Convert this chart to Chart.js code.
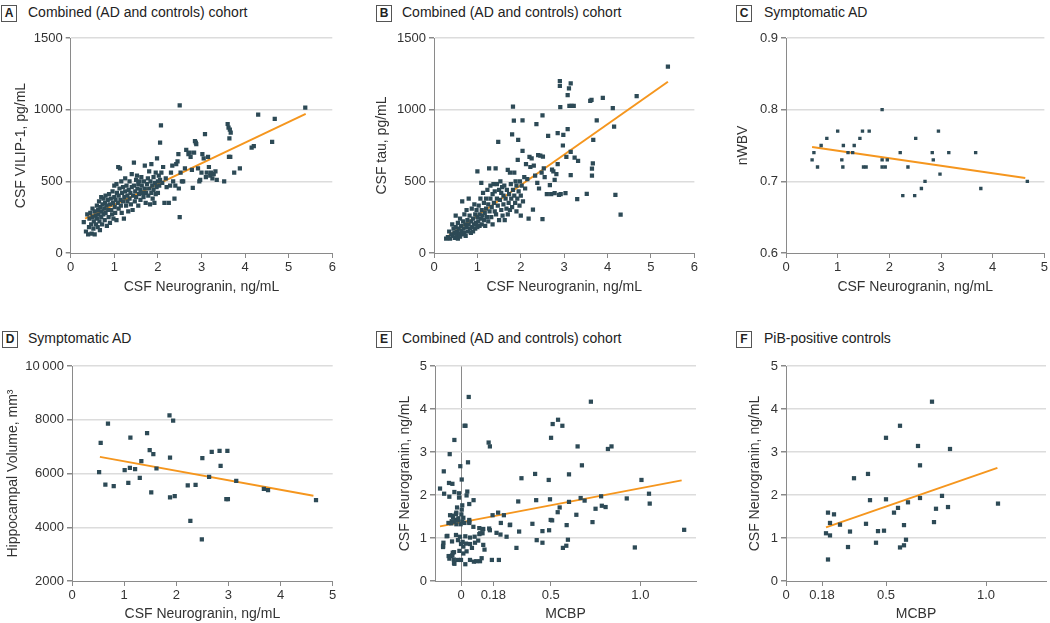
<!DOCTYPE html>
<html>
<head>
<meta charset="utf-8">
<script src="https://cdn.jsdelivr.net/npm/chart.js@4.4.1/dist/chart.umd.min.js"></script>
<style>
  body { margin: 0; background: #fff; width: 1050px; height: 623px; position: relative; overflow: hidden;
         font-family: 'Liberation Sans', Arial, sans-serif; color: #222; }
  .tag { position: absolute; width: 14px; height: 15px; border: 1px solid #555; font-weight: bold;
         font-size: 12px; line-height: 15px; text-align: center; }
  .title { position: absolute; font-size: 14px; line-height: 16px; white-space: nowrap; }
  canvas { position: absolute; }
</style>
</head>
<body>
<div class="tag" style="left:1px;top:5px">A</div><div class="title" style="left:28px;top:4px">Combined (AD and controls) cohort</div>
<div class="tag" style="left:376px;top:5px">B</div><div class="title" style="left:402px;top:4px">Combined (AD and controls) cohort</div>
<div class="tag" style="left:736px;top:5px">C</div><div class="title" style="left:764px;top:4px">Symptomatic AD</div>
<div class="tag" style="left:2px;top:331px">D</div><div class="title" style="left:28px;top:330px">Symptomatic AD</div>
<div class="tag" style="left:376px;top:331px">E</div><div class="title" style="left:402px;top:330px">Combined (AD and controls) cohort</div>
<div class="tag" style="left:736px;top:331px">F</div><div class="title" style="left:764px;top:330px">PiB-positive controls</div>
<script>
// ---- data ----
// A: CSF neurogranin (ng/mL) vs CSF VILIP-1 (pg/mL)
const vilipPoints = [
  [0.30,215],[0.35,150],[0.38,270],[0.40,130],[0.42,180],[0.43,240],[0.45,280],[0.47,200],[0.48,135],[0.50,250],
  [0.50,310],[0.52,170],[0.53,220],[0.55,290],[0.55,130],[0.57,260],[0.58,200],[0.60,330],[0.60,240],[0.62,180],
  [0.63,300],[0.64,270],[0.65,360],[0.66,220],[0.67,160],[0.68,320],[0.70,250],[0.70,390],[0.71,290],[0.72,200],
  [0.73,340],[0.75,270],[0.75,380],[0.77,310],[0.78,230],[0.79,350],[0.80,400],[0.80,280],[0.82,330],[0.83,190],
  [0.85,370],[0.86,300],[0.87,250],[0.88,410],[0.90,340],[0.90,210],[0.92,380],[0.93,300],[0.95,270],[0.96,430],
  [0.97,350],[0.98,240],[1.00,470],[1.00,390],[1.01,320],[1.02,280],[1.03,370],[1.05,480],[1.05,230],[1.06,420],
  [1.08,350],[1.09,600],[1.10,310],[1.10,400],[1.12,450],[1.13,590],[1.14,370],[1.15,330],[1.16,500],[1.17,280],
  [1.18,420],[1.20,360],[1.20,460],[1.22,240],[1.23,390],[1.25,520],[1.25,430],[1.27,330],[1.28,470],[1.30,400],
  [1.30,360],[1.32,290],[1.33,440],[1.35,500],[1.35,380],[1.37,420],[1.38,340],[1.40,550],[1.40,460],[1.42,300],
  [1.43,400],[1.45,630],[1.45,470],[1.47,360],[1.48,430],[1.50,510],[1.50,390],[1.52,540],[1.53,450],[1.55,330],
  [1.55,480],[1.57,410],[1.58,500],[1.60,440],[1.60,370],[1.62,530],[1.63,470],[1.65,420],[1.67,390],[1.68,500],
  [1.70,610],[1.70,450],[1.72,350],[1.73,420],[1.75,480],[1.77,520],[1.78,400],[1.80,450],[1.80,570],[1.82,340],
  [1.83,500],[1.85,620],[1.85,420],[1.87,470],[1.88,380],[1.90,530],[1.90,440],[1.92,350],[1.93,490],[1.95,560],
  [1.95,410],[1.97,460],[1.98,660],[2.00,500],[2.00,420],[2.02,540],[2.03,470],[2.05,770],[2.05,510],[2.07,890],
  [2.08,560],[2.10,490],[2.12,600],[2.15,350],[2.18,520],[2.20,460],[2.25,350],[2.28,470],[2.30,560],[2.33,610],
  [2.35,500],[2.38,380],[2.40,470],[2.42,620],[2.45,640],[2.47,690],[2.48,450],[2.50,1030],[2.50,250],[2.52,560],
  [2.55,500],[2.58,500],[2.62,590],[2.65,720],[2.70,690],[2.73,700],[2.75,670],[2.78,580],[2.80,455],[2.83,700],
  [2.85,780],[2.87,770],[2.88,760],[2.92,590],[2.95,500],[2.97,510],[3.00,560],[3.02,690],[3.05,660],[3.08,830],
  [3.10,530],[3.12,560],[3.15,670],[3.17,600],[3.20,540],[3.22,560],[3.25,520],[3.28,550],[3.32,570],[3.35,510],
  [3.52,500],[3.60,900],[3.62,875],[3.64,800],[3.65,860],[3.67,840],[3.63,670],[3.66,670],[3.75,560],[3.88,590],
  [4.15,735],[4.20,745],[4.30,965],[4.62,775],[4.68,935],[5.38,1015]
];
const vilipFit = [[0.33,240],[5.39,970]];

// B: CSF neurogranin (ng/mL) vs CSF tau (pg/mL)
const tauPoints = [
  [0.28,100],[0.32,110],[0.35,150],[0.37,100],[0.40,130],[0.42,200],[0.43,120],[0.45,170],[0.47,140],[0.48,105],
  [0.50,260],[0.50,180],[0.52,125],[0.53,150],[0.55,210],[0.55,100],[0.57,170],[0.58,135],[0.60,240],[0.60,115],
  [0.62,190],[0.63,155],[0.65,360],[0.65,130],[0.67,220],[0.68,170],[0.70,140],[0.70,270],[0.72,200],[0.73,120],
  [0.75,180],[0.75,300],[0.77,230],[0.78,150],[0.80,380],[0.80,200],[0.82,260],[0.83,170],[0.85,140],[0.86,220],
  [0.87,310],[0.88,180],[0.90,240],[0.90,150],[0.92,200],[0.93,340],[0.95,270],[0.95,170],[0.97,210],[0.98,300],
  [1.00,570],[1.00,180],[1.00,250],[1.02,220],[1.03,330],[1.05,270],[1.05,190],[1.07,380],[1.08,240],[1.09,490],
  [1.10,300],[1.10,200],[1.12,260],[1.13,420],[1.15,350],[1.15,230],[1.17,280],[1.18,190],[1.20,380],[1.20,310],
  [1.22,250],[1.23,440],[1.25,220],[1.25,340],[1.27,590],[1.28,290],[1.30,470],[1.30,380],[1.32,250],[1.33,320],
  [1.35,410],[1.35,200],[1.37,480],[1.38,350],[1.40,290],[1.40,430],[1.42,590],[1.43,270],[1.45,380],[1.45,480],
  [1.47,330],[1.48,775],[1.50,440],[1.50,230],[1.52,370],[1.53,500],[1.55,300],[1.55,420],[1.57,460],[1.58,260],
  [1.60,400],[1.60,340],[1.62,470],[1.63,230],[1.65,380],[1.67,310],[1.68,440],[1.70,580],[1.70,270],[1.72,350],
  [1.73,410],[1.75,560],[1.75,300],[1.77,480],[1.78,380],[1.80,827],[1.80,320],[1.82,1022],[1.82,440],[1.84,924],
  [1.85,560],[1.85,400],[1.87,350],[1.88,500],[1.90,470],[1.90,290],[1.92,380],[1.93,650],[1.94,789],[1.95,430],
  [1.97,330],[1.98,500],[2.00,400],[2.00,260],[2.02,470],[2.04,926],[2.04,713],[2.05,360],[2.08,530],[2.10,450],
  [2.12,620],[2.15,515],[2.18,240],[2.20,670],[2.22,600],[2.25,660],[2.28,302],[2.30,610],[2.33,540],[2.36,899],
  [2.38,490],[2.40,683],[2.42,450],[2.45,680],[2.48,560],[2.50,961],[2.50,237],[2.51,673],[2.53,590],[2.55,530],
  [2.60,410],[2.63,817],[2.67,474],[2.70,411],[2.72,581],[2.75,570],[2.78,511],[2.78,418],[2.82,550],[2.85,836],
  [2.85,620],[2.88,406],[2.90,1200],[2.90,1166],[2.91,1017],[2.92,411],[2.97,750],[2.98,824],[3.03,418],[3.05,670],
  [3.08,864],[3.08,1101],[3.11,1149],[3.15,1184],[3.12,1026],[3.17,1026],[3.22,1026],[3.15,706],[3.15,543],[3.24,666],
  [3.30,376],[3.32,643],[3.52,413],[3.60,1061],[3.63,1068],[3.64,588],[3.64,539],[3.66,625],[3.67,789],[3.75,926],
  [3.89,1082],[4.12,1010],[4.15,882],[4.18,406],[4.30,267],[4.67,1094],[5.39,1300]
];
const tauFit = [[0.29,110],[5.39,1195]];

// C: symptomatic AD, CSF neurogranin vs nWBV
const nwbvPoints = [
  [0.505,0.73],[0.54,0.74],[0.61,0.72],[0.68,0.75],[0.79,0.76],[1.00,0.77],[1.08,0.73],[1.10,0.72],[1.11,0.75],
  [1.20,0.74],[1.29,0.74],[1.32,0.75],[1.43,0.76],[1.48,0.77],[1.50,0.72],[1.55,0.72],[1.61,0.77],[1.86,0.80],
  [1.86,0.73],[1.86,0.72],[1.92,0.72],[1.96,0.73],[2.21,0.74],[2.26,0.68],[2.36,0.72],[2.49,0.68],[2.51,0.76],
  [2.62,0.69],[2.69,0.70],[2.83,0.74],[2.85,0.73],[2.95,0.77],[2.98,0.71],[3.15,0.74],[3.67,0.74],[3.77,0.69],
  [4.67,0.70]
];
const nwbvFit = [[0.505,0.748],[4.63,0.7045]];

// D: symptomatic AD, CSF neurogranin vs hippocampal volume (mm3)
const hippoPoints = [
  [0.52,6050],[0.55,7140],[0.64,5590],[0.69,7860],[0.80,5530],[1.01,6124],[1.08,5653],[1.11,6210],[1.12,7337],
  [1.21,6160],[1.30,5840],[1.33,6458],[1.44,7500],[1.49,6867],[1.52,5294],[1.56,6718],[1.62,6186],[1.87,8167],
  [1.88,6594],[1.88,5108],[1.94,7969],[1.97,5158],[2.22,5554],[2.27,4241],[2.37,5579],[2.49,3548],[2.50,6570],
  [2.63,5876],[2.68,6805],[2.83,6842],[2.85,6285],[2.96,5046],[2.99,5046],[2.98,6842],[3.15,5727],[3.68,5430],
  [3.76,5381],[4.68,5009]
];
const hippoFit = [[0.535,6619],[4.63,5170]];
const hippoTickLabels = { 2000: '2000', 4000: '4000', 6000: '6000', 8000: '8000', 10000: '10\u2009000' };

// E: combined cohort, MCBP vs CSF neurogranin (ng/mL)
const mcbpAllPoints = [
  [0.043,4.28],[0.02,3.61],[0.025,3.61],[-0.037,3.28],[-0.063,2.95],[-0.004,2.67],[0.039,2.76],[-0.096,2.55],
  [0.004,2.36],[-0.067,2.28],[-0.048,2.26],[-0.117,2.15],[-0.094,2.03],[-0.037,2.07],[-0.065,1.96],[0.035,2.08],
  [0.031,1.99],[-0.011,2.04],[-0.011,1.94],[0.07,1.88],[0.046,1.79],[0.007,1.76],[0.004,1.66],[-0.022,1.71],
  [-0.026,1.59],[-0.046,1.52],[-0.015,1.46],[-0.031,1.42],[-0.052,1.39],[-0.07,1.35],[0.007,1.38],[0.046,1.42],
  [0.046,1.35],[-0.08,1.04],[-0.1,0.82],[-0.1,0.79],[-0.069,0.58],[-0.04,0.50],[-0.037,0.40],[-0.048,0.60],
  [-0.061,1.53],[-0.044,1.49],[-0.028,1.56],[0.002,1.55],[0.013,1.47],[-0.017,1.42],[-0.039,1.38],[-0.054,1.34],
  [-0.026,1.32],[-0.002,1.32],[0.019,1.35],[0.046,1.38],[0.069,1.26],[0.102,1.23],[0.124,1.21],[0.157,1.22],
  [0.176,1.53],[0.207,1.59],[0.239,1.53],[0.222,1.35],[0.272,1.30],[-0.076,1.05],[-0.028,1.07],[-0.006,1.03],
  [0.024,1.04],[0.05,1.01],[0.076,1.03],[0.102,1.09],[0.12,1.11],[0.161,1.18],[0.198,1.12],[0.22,1.08],
  [0.254,1.03],[-0.098,0.89],[-0.05,0.92],[-0.017,0.95],[0.0,0.86],[0.013,0.80],[0.028,0.87],[0.05,0.86],
  [0.078,0.89],[0.096,0.94],[0.124,0.84],[0.061,0.77],[0.031,0.69],[0.013,0.64],[-0.009,0.70],[-0.039,0.67],
  [-0.054,0.58],[-0.065,0.52],[-0.039,0.42],[-0.017,0.49],[0.0,0.49],[0.024,0.39],[0.05,0.49],[0.072,0.45],
  [0.106,0.46],[0.309,0.77],[-0.046,0.66],[0.009,0.91],
  [0.154,3.22],[0.161,3.13],[0.172,0.49],[0.211,0.49],[0.131,0.73],[0.115,0.53],[0.085,0.46],[0.119,1.20],
  [0.107,1.11],[0.274,1.31],[0.319,1.85],[0.324,1.15],[0.337,2.39],[0.398,1.33],[0.413,2.49],[0.419,1.88],
  [0.422,0.95],[0.454,1.16],[0.454,0.89],[0.489,2.35],[0.491,1.18],[0.496,1.90],[0.502,3.33],[0.50,1.42],
  [0.508,1.41],[0.511,3.65],[0.541,3.75],[0.539,1.60],[0.55,1.71],[0.565,3.61],[0.568,0.77],[0.587,0.82],
  [0.589,1.30],[0.596,0.96],[0.602,2.48],[0.602,1.84],[0.643,1.54],[0.65,3.13],[0.667,1.93],[0.674,2.69],
  [0.689,1.87],[0.724,4.17],[0.733,1.37],[0.75,1.68],[0.781,1.97],[0.785,1.75],[0.806,1.72],[0.819,3.07],
  [0.839,3.13],[0.924,1.92],[0.969,0.78],[1.006,2.35],[1.048,2.03],[1.052,1.80],[1.244,1.19]
];
const mcbpAllFit = [[-0.117,1.27],[1.23,2.34]];

// F: PiB-positive controls, MCBP vs CSF neurogranin (ng/mL)
const mcbpPibPoints = [
  [0.20,1.11],[0.21,1.59],[0.21,0.50],[0.22,1.06],[0.22,1.35],[0.24,1.55],[0.27,1.31],[0.31,0.79],[0.32,1.15],
  [0.34,2.39],[0.40,1.33],[0.41,2.49],[0.42,1.88],[0.45,0.89],[0.46,1.16],[0.49,1.17],[0.50,1.90],[0.50,3.33],
  [0.54,1.59],[0.56,1.70],[0.57,3.61],[0.57,0.78],[0.59,0.83],[0.59,1.30],[0.60,0.96],[0.61,1.83],[0.66,3.14],
  [0.67,1.93],[0.67,2.69],[0.73,4.17],[0.74,1.37],[0.75,1.68],[0.78,1.98],[0.81,1.72],[0.82,3.07],[1.06,1.80]
];
const mcbpPibFit = [[0.20,1.246],[1.057,2.63]];

const mcbpTicks = [0, 0.18, 0.5, 1.0];
const mcbpTickLabels = ['0', '0.18', '0.5', '1.0'];

// ---- styling ----
const pointColor = '#2d4a56';
const fitColor = '#f5961e';
const gridColor = '#dcdcdc';
const axisColor = '#8a8a8a';
const textColor = '#333';
const fontFamily = "'Liberation Sans', Arial, sans-serif";

function toXY(arr) { return arr.map(p => ({ x: p[0], y: p[1] })); }

function makePanel(c) {
  const canvas = document.createElement('canvas');
  canvas.width = c.w; canvas.height = c.h;
  canvas.style.left = c.left + 'px'; canvas.style.top = c.top + 'px';
  document.body.appendChild(canvas);

  const xScale = {
    type: 'linear', min: c.xMin, max: c.xMax,
    afterFit: s => { s.height = c.xAxisH; },
    ticks: { stepSize: 1, color: textColor, font: { family: fontFamily, size: 13 }, padding: 2, maxRotation: 0 },
    grid: { drawOnChartArea: false, tickLength: 5, tickColor: axisColor, lineWidth: 1 },
    border: { color: axisColor, width: 1 },
    title: { display: true, text: c.xTitle, color: textColor, font: { family: fontFamily, size: 14 },
             padding: { top: 0, bottom: c.xTitlePad } }
  };
  if (c.customX) {
    // MCBP axis only labels 0, 0.18 (positivity cutoff), 0.5 and 1.0
    xScale.afterBuildTicks = s => { s.ticks = mcbpTicks.map(v => ({ value: v })); };
    xScale.ticks.callback = v => mcbpTickLabels[mcbpTicks.indexOf(v)];
    xScale.grid.drawOnChartArea = c.zeroLine;
    xScale.grid.color = ctx => (ctx.tick && ctx.tick.value === 0 ? axisColor : 'rgba(0,0,0,0)');
  }

  new Chart(canvas, {
    type: 'scatter',
    data: {
      datasets: [
        { data: toXY(c.points), pointStyle: 'rect', pointRadius: c.r, backgroundColor: pointColor,
          borderWidth: 0, pointBorderWidth: 0 },
        { data: toXY(c.fit), showLine: true, borderColor: fitColor, borderWidth: 2, pointRadius: 0 }
      ]
    },
    options: {
      responsive: false, animation: false, events: [],
      layout: { padding: { top: c.padTop, right: c.padRight, left: 0, bottom: 0 } },
      plugins: { legend: { display: false }, tooltip: { enabled: false } },
      scales: {
        x: xScale,
        y: {
          type: 'linear', min: c.yMin, max: c.yMax,
          afterFit: s => { s.width = c.yAxisW; },
          ticks: { stepSize: c.yStep, color: textColor, font: { family: fontFamily, size: 13 }, padding: 3,
                   callback: c.yLabel || (v => String(v)) },
          grid: { color: ctx => (ctx.tick && ctx.tick.value === c.yMin ? 'rgba(0,0,0,0)' : gridColor),
                  lineWidth: 1.5, tickLength: 5, tickColor: axisColor },
          border: { color: axisColor, width: 1 },
          title: { display: true, text: c.yTitle, color: textColor, font: { family: fontFamily, size: 14 },
                   padding: { top: c.yTitlePad, bottom: 0 } }
        }
      }
    }
  });
}

const xNeuro = 'CSF Neurogranin, ng/mL';

makePanel({ left: 0, top: 25, w: 345, h: 275, padTop: 13, padRight: 12.7, yAxisW: 70.7, xAxisH: 47,
  xMin: 0, xMax: 6, yMin: 0, yMax: 1500, yStep: 500, xTitle: xNeuro, xTitlePad: 4.6,
  yTitle: 'CSF VILIP-1, pg/mL', yTitlePad: 13, points: vilipPoints, fit: vilipFit, r: 3 });

makePanel({ left: 350, top: 25, w: 350, h: 275, padTop: 13, padRight: 5, yAxisW: 84, xAxisH: 47,
  xMin: 0, xMax: 6, yMin: 0, yMax: 1500, yStep: 500, xTitle: xNeuro, xTitlePad: 4.6,
  yTitle: 'CSF tau, pg/mL', yTitlePad: 24, points: tauPoints, fit: tauFit, r: 3 });

makePanel({ left: 700, top: 25, w: 350, h: 275, padTop: 13, padRight: 3.3, yAxisW: 86, xAxisH: 47,
  xMin: 0, xMax: 5, yMin: 0.6, yMax: 0.9, yStep: 0.1, xTitle: xNeuro, xTitlePad: 4.6,
  yTitle: 'nWBV', yTitlePad: 35, yLabel: v => v.toFixed(1), points: nwbvPoints, fit: nwbvFit, r: 2.4 });

makePanel({ left: 0, top: 345, w: 345, h: 278, padTop: 21, padRight: 12.3, yAxisW: 72, xAxisH: 42,
  xMin: 0, xMax: 5, yMin: 2000, yMax: 10000, yStep: 2000, xTitle: xNeuro, xTitlePad: 0,
  yTitle: 'Hippocampal Volume, mm\u00b3', yTitlePad: 5, yLabel: v => hippoTickLabels[v],
  points: hippoPoints, fit: hippoFit, r: 3 });

makePanel({ left: 350, top: 345, w: 350, h: 278, padTop: 21, padRight: 3, yAxisW: 85, xAxisH: 42,
  xMin: -0.145, xMax: 1.31, yMin: 0, yMax: 5, yStep: 1, xTitle: 'MCBP', xTitlePad: 0,
  customX: true, zeroLine: true,
  yTitle: 'CSF Neurogranin, ng/mL', yTitlePad: 47, points: mcbpAllPoints, fit: mcbpAllFit, r: 3 });

makePanel({ left: 700, top: 345, w: 350, h: 278, padTop: 21, padRight: 3, yAxisW: 86, xAxisH: 42,
  xMin: 0, xMax: 1.3, yMin: 0, yMax: 5, yStep: 1, xTitle: 'MCBP', xTitlePad: 0,
  customX: true, zeroLine: false,
  yTitle: 'CSF Neurogranin, ng/mL', yTitlePad: 47, points: mcbpPibPoints, fit: mcbpPibFit, r: 3 });
</script>
</body>
</html>
